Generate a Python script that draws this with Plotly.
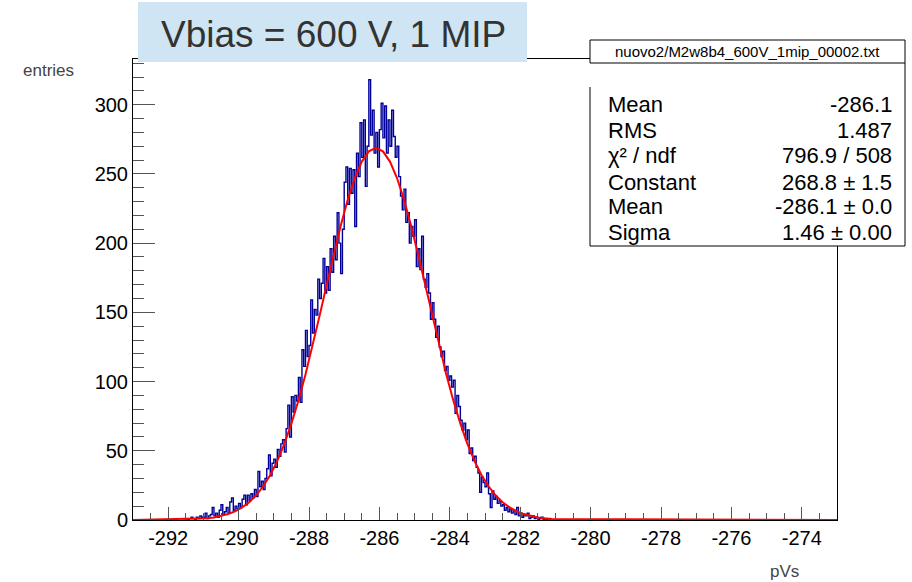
import numpy as np
import plotly.graph_objects as go

# ---------------- data ----------------
bin_low = -291.6
bin_width = 0.05
counts = [
    0, 0, 1, 0, 1, 2, 1, 0, 2, 1, 3, 2,
    2, 5, 1, 3, 4, 9, 3, 5, 2, 7, 11, 4, 6, 9, 5, 13, 16, 7, 10, 8,
    12, 9, 15, 18, 11, 18, 14, 19, 16, 22, 17, 35, 24, 28, 22, 30, 37, 47, 32, 41,
    44, 38, 51, 46, 55, 58, 49, 66, 83, 60, 89, 78, 90, 86, 103, 85, 123, 111, 137, 118,
    126, 159, 135, 152, 148, 174, 160, 171, 189, 164, 183, 166, 196, 179, 205, 188, 222, 200, 178, 210,
    244, 255, 228, 254, 236, 253, 212, 265, 248, 287, 262, 289, 241, 270, 318, 278, 296, 265, 280, 255,
    282, 301, 276, 299, 265, 289, 270, 296, 277, 262, 270, 248, 234, 224, 239, 215, 222, 200, 212, 205,
    217, 183, 196, 181, 205, 174, 168, 178, 164, 145, 157, 145, 132, 140, 125, 118, 122, 108, 111, 101,
    104, 96, 101, 77, 90, 82, 72, 65, 70, 58, 65, 48, 52, 43, 46, 38, 34, 20, 31, 27,
    24, 34, 19, 9, 21, 15, 17, 12, 14, 10, 11, 7, 9, 6, 8, 5, 7, 4, 9, 3,
    5, 2, 4, 3, 5, 1, 2, 3, 1, 2, 0, 1, 2, 0, 1, 0, 0, 1,
]

fit_x = [-293.0, -291.1, -290.9, -290.7, -290.5, -290.3, -290.1, -289.9, -289.7, -289.5,
         -289.3, -289.1, -288.9, -288.7, -288.5, -288.3, -288.1, -287.9, -287.7, -287.5,
         -287.3, -287.1, -286.9, -286.7, -286.5, -286.3, -286.1, -285.9, -285.7, -285.5,
         -285.3, -285.1, -284.9, -284.7, -284.5, -284.3, -284.1, -283.9, -283.7, -283.5,
         -283.3, -283.1, -282.9, -282.7, -282.5, -282.3, -282.1, -281.9, -281.7, -281.5,
         -281.3, -281.1, -273.0]
fit_y = [0.0, 0.76, 1.21, 1.88, 2.87, 4.29, 6.30, 9.09, 12.86, 17.86,
         24.34, 32.55, 42.73, 55.05, 69.61, 86.37, 105.18, 125.71, 147.45, 169.73,
         191.75, 212.60, 231.33, 247.04, 258.90, 266.29, 268.80, 266.29, 258.90, 247.04,
         231.33, 212.60, 191.75, 169.73, 147.45, 125.71, 105.18, 86.37, 69.61, 55.05,
         42.73, 32.55, 24.34, 17.86, 12.86, 9.09, 6.30, 4.29, 2.87, 1.88,
         1.21, 0.76, 0.0]

x_tickvals = [-292, -290, -288, -286, -284, -282, -280, -278, -276, -274]
x_ticktext = ["-292", "-290", "-288", "-286", "-284", "-282", "-280", "-278", "-276", "-274"]
y_tickvals = [0, 50, 100, 150, 200, 250, 300]
y_ticktext = ["0", "50", "100", "150", "200", "250", "300"]

stat_labels = ["Mean", "RMS", "χ² / ndf", "Constant", "Mean", "Sigma"]
stat_values = ["-286.1", "1.487", "796.9 / 508", "268.8 ± 1.5", "-286.1 ± 0.0", "1.46 ± 0.00"]
stats_title = "nuovo2/M2w8b4_600V_1mip_00002.txt"
title_text = "Vbias = 600 V, 1 MIP"
x_title = "pVs"
y_title = "entries"

x_range = [-293, -273]
y_range = [0, 333]

# ---------------- layout geometry (pixels) ----------------
W, H = 912, 582
L, R, T, B = 133, 75, 59, 62
PW, PH = W - L - R, H - T - B


def px(xp):
    return (xp - L) / PW


def py(yp):
    return (H - B - yp) / PH


centers = bin_low + bin_width * (np.arange(len(counts)) + 0.5)

fig = go.Figure()
fig.add_trace(go.Scatter(x=centers, y=counts, mode="lines", line_shape="hvh",
                         line=dict(color="#000099", width=1.4), hoverinfo="skip"))
fig.add_trace(go.Scatter(x=fit_x, y=fit_y, mode="lines",
                         line=dict(color="#ff0000", width=2), hoverinfo="skip"))

FONT = "Liberation Sans, Arial, sans-serif"
tick_font = dict(family=FONT, size=20, color="black")

fig.update_layout(
    width=W, height=H, margin=dict(l=L, r=R, t=T, b=B),
    paper_bgcolor="white", plot_bgcolor="white", showlegend=False,
    xaxis=dict(range=x_range, tickmode="array", tickvals=x_tickvals, ticktext=x_ticktext,
               ticks="inside", ticklen=13,
               tickcolor="#555", tickwidth=1, showgrid=False, zeroline=False,
               showline=True, linecolor="black", linewidth=1, mirror=True,
               tickfont=tick_font,
               minor=dict(tick0=-292, dtick=0.5, ticks="inside", ticklen=7, tickcolor="#555", showgrid=False)),
    yaxis=dict(range=y_range, tickmode="array", tickvals=y_tickvals, ticktext=y_ticktext,
               ticks="inside", ticklen=22,
               tickcolor="#555", tickwidth=1, showgrid=False, zeroline=False,
               showline=True, linecolor="black", linewidth=1, mirror=True,
               tickfont=tick_font,
               minor=dict(tick0=0, dtick=10, ticks="inside", ticklen=11, tickcolor="#555", showgrid=False)),
)

shapes = []
annotations = []

# title box
shapes.append(dict(type="rect", xref="paper", yref="paper",
                   x0=px(138), x1=px(527), y0=py(62), y1=py(2),
                   fillcolor="#d0e5f3", line=dict(width=0), layer="above"))
annotations.append(dict(xref="paper", yref="paper", x=px(333), y=py(34),
                        xanchor="center", yanchor="middle", showarrow=False,
                        text=title_text,
                        font=dict(family=FONT, size=37, color="#333333")))

# stats box
shapes.append(dict(type="rect", xref="paper", yref="paper",
                   x0=px(590), x1=px(905), y0=py(246), y1=py(63),
                   fillcolor="white", line=dict(width=0), layer="above"))
shapes.append(dict(type="line", xref="paper", yref="paper",
                   x0=px(905), x1=px(905), y0=py(246), y1=py(63),
                   line=dict(color="black", width=1), layer="above"))
shapes.append(dict(type="line", xref="paper", yref="paper",
                   x0=px(590), x1=px(905), y0=py(246), y1=py(246),
                   line=dict(color="black", width=1), layer="above"))
shapes.append(dict(type="line", xref="paper", yref="paper",
                   x0=px(590), x1=px(590), y0=py(246), y1=py(87),
                   line=dict(color="black", width=1), layer="above"))
shapes.append(dict(type="rect", xref="paper", yref="paper",
                   x0=px(590), x1=px(905), y0=py(63), y1=py(40),
                   fillcolor="white", line=dict(color="black", width=1), layer="above"))
annotations.append(dict(xref="paper", yref="paper", x=px(747.5), y=py(51.5),
                        xanchor="center", yanchor="middle", showarrow=False,
                        text=stats_title,
                        font=dict(family=FONT, size=15, color="black")))

row_y = [104, 130, 155, 182, 207, 233]
for lab, val, yy in zip(stat_labels, stat_values, row_y):
    annotations.append(dict(xref="paper", yref="paper", x=px(606), y=py(yy),
                            xanchor="left", yanchor="middle", showarrow=False, text=lab,
                            font=dict(family=FONT, size=22, color="black")))
    annotations.append(dict(xref="paper", yref="paper", x=px(894), y=py(yy),
                            xanchor="right", yanchor="middle", showarrow=False, text=val,
                            font=dict(family=FONT, size=22, color="black")))

# axis titles
annotations.append(dict(xref="paper", yref="paper", x=px(48), y=py(70),
                        xanchor="center", yanchor="middle", showarrow=False, text=y_title,
                        font=dict(family=FONT, size=17, color="#444444")))
annotations.append(dict(xref="paper", yref="paper", x=px(784), y=py(571),
                        xanchor="center", yanchor="middle", showarrow=False, text=x_title,
                        font=dict(family=FONT, size=17, color="#444444")))

fig.update_layout(shapes=shapes, annotations=annotations)
fig.write_html("out.html")
